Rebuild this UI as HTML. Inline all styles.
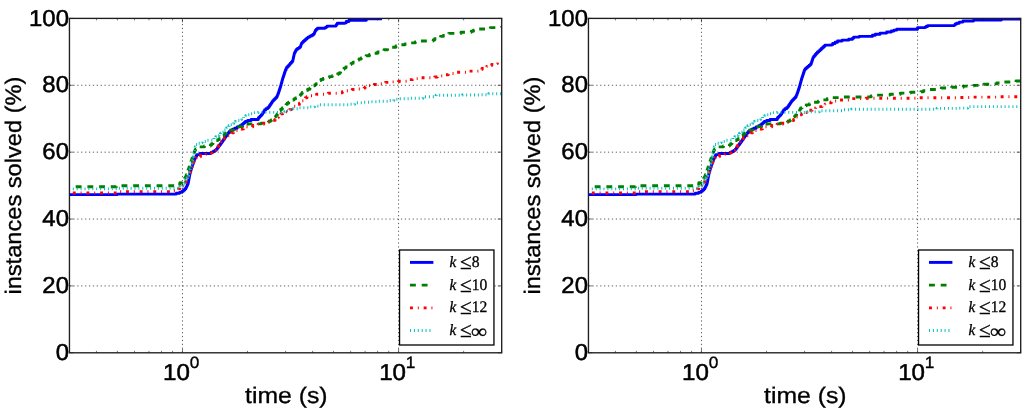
<!DOCTYPE html>
<html>
<head>
<meta charset="utf-8">
<title>instances solved vs time</title>
<style>
html, body { margin: 0; padding: 0; background: #ffffff; }
body { width: 1024px; height: 412px; overflow: hidden; font-family: "Liberation Sans", sans-serif; }
svg { display: block; will-change: transform; }
text { text-rendering: geometricPrecision; }
.grid { stroke: #000; stroke-width: 0.8; stroke-dasharray: 1.25 2.65; stroke-opacity: 0.8; fill: none; }
.tick { stroke: #000; stroke-width: 0.55; }
.tl { font-family: "Liberation Sans", sans-serif; font-size: 23.00px; fill: #000; stroke: #000; stroke-width: 0.5px; }
.al { font-family: "Liberation Sans", sans-serif; font-size: 22.5px; fill: #000; stroke: #000; stroke-width: 0.32px; }
.sup { font-family: "Liberation Sans", sans-serif; font-size: 16.4px; fill: #000; stroke: #000; stroke-width: 0.35px; }
.lg { font-family: "Liberation Serif", serif; font-size: 16.4px; fill: #000; stroke: #000; stroke-width: 0.3px; }
.it { font-style: italic; }
</style>
</head>
<body>
<svg width="1024" height="412" viewBox="0 0 1024 412">
<defs>
<clipPath id="clip0"><rect x="69.45" y="18.40" width="432.25" height="334.40"/></clipPath>
<clipPath id="clip1"><rect x="588.45" y="18.40" width="432.25" height="334.40"/></clipPath>
</defs>
<rect x="0" y="0" width="1024" height="412" fill="#ffffff"/>
<g>
<g clip-path="url(#clip0)">
<polyline points="69.40,194.60 115.50,194.60 117.50,194.60 117.50,194.10 174.70,194.10 176.35,194.10 176.35,193.25 179.65,193.25 179.65,192.40 181.30,192.40 182.03,192.40 182.03,191.20 183.50,191.20 183.50,190.00 184.97,190.00 184.97,188.80 185.70,188.80 185.94,188.80 185.94,187.78 186.42,187.78 186.42,186.76 186.90,186.76 186.90,185.74 187.38,185.74 187.38,184.72 187.86,184.72 187.86,183.70 188.10,183.70 188.21,183.70 188.21,182.57 188.42,182.57 188.42,181.43 188.63,181.43 188.63,180.30 188.84,180.30 188.84,179.17 189.05,179.17 189.05,178.03 189.26,178.03 189.26,176.90 189.47,176.90 189.47,175.77 189.68,175.77 189.68,174.63 189.89,174.63 189.89,173.50 190.00,173.50 190.16,173.50 190.16,172.46 190.47,172.46 190.47,171.41 190.79,171.41 190.79,170.37 191.10,170.37 191.10,169.33 191.41,169.33 191.41,168.29 191.73,168.29 191.73,167.24 192.04,167.24 192.04,166.20 192.20,166.20 192.41,166.20 192.41,165.06 192.82,165.06 192.82,163.91 193.24,163.91 193.24,162.77 193.65,162.77 193.65,161.63 194.06,161.63 194.06,160.49 194.48,160.49 194.48,159.34 194.89,159.34 194.89,158.20 195.10,158.20 195.47,158.20 195.47,157.00 196.20,157.00 196.20,155.80 196.93,155.80 196.93,154.60 197.30,154.60 200.20,154.60 200.20,153.50 210.60,153.50 210.60,153.00 211.57,153.00 211.57,152.10 213.53,152.10 213.53,151.20 214.50,151.20 215.10,151.20 215.10,150.20 216.30,150.20 216.30,149.20 216.90,149.20 217.29,149.20 217.29,148.12 218.06,148.12 218.06,147.05 218.84,147.05 218.84,145.97 219.61,145.97 219.61,144.90 220.00,144.90 220.39,144.90 220.39,143.82 221.16,143.82 221.16,142.75 221.94,142.75 221.94,141.68 222.71,141.68 222.71,140.60 223.10,140.60 223.50,140.60 223.50,139.43 224.30,139.43 224.30,138.25 225.10,138.25 225.10,137.07 225.90,137.07 225.90,135.90 226.30,135.90 226.68,135.90 226.68,134.87 227.45,134.87 227.45,133.83 228.22,133.83 228.22,132.80 228.60,132.80 229.38,132.80 229.38,131.55 230.92,131.55 230.92,130.30 231.70,130.30 232.72,130.30 232.72,129.25 234.78,129.25 234.78,128.20 235.80,128.20 237.15,128.20 237.15,126.90 239.85,126.90 239.85,125.60 241.20,125.60 241.80,125.60 241.80,124.57 243.00,124.57 243.00,123.55 244.20,123.55 244.20,122.53 245.40,122.53 245.40,121.50 246.00,121.50 247.70,121.50 247.70,120.50 251.10,120.50 251.10,119.50 252.80,119.50 258.30,119.50 258.30,118.30 258.87,118.30 258.87,117.20 260.00,117.20 260.00,116.10 261.13,116.10 261.13,115.00 261.70,115.00 262.04,115.00 262.04,113.96 262.72,113.96 262.72,112.92 263.40,112.92 263.40,111.88 264.08,111.88 264.08,110.84 264.76,110.84 264.76,109.80 265.10,109.80 265.98,109.80 265.98,108.65 267.73,108.65 267.73,107.50 268.60,107.50 268.97,107.50 268.97,106.40 269.70,106.40 269.70,105.30 270.43,105.30 270.43,104.20 271.17,104.20 271.17,103.10 271.90,103.10 271.90,102.00 272.63,102.00 272.63,100.90 273.00,100.90 273.49,100.90 273.49,99.93 274.46,99.93 274.46,98.95 275.44,98.95 275.44,97.97 276.41,97.97 276.41,97.00 276.90,97.00 277.13,97.00 277.13,95.83 277.60,95.83 277.60,94.67 278.07,94.67 278.07,93.50 278.30,93.50 278.48,93.50 278.48,92.38 278.85,92.38 278.85,91.27 279.22,91.27 279.22,90.15 279.58,90.15 279.58,89.03 279.95,89.03 279.95,87.92 280.32,87.92 280.32,86.80 280.50,86.80 280.66,86.80 280.66,85.66 280.97,85.66 280.97,84.51 281.29,84.51 281.29,83.37 281.60,83.37 281.60,82.23 281.91,82.23 281.91,81.09 282.23,81.09 282.23,79.94 282.54,79.94 282.54,78.80 282.70,78.80 282.88,78.80 282.88,77.70 283.24,77.70 283.24,76.60 283.61,76.60 283.61,75.50 283.97,75.50 283.97,74.40 284.33,74.40 284.33,73.30 284.69,73.30 284.69,72.20 285.06,72.20 285.06,71.10 285.42,71.10 285.42,70.00 285.60,70.00 286.10,70.00 286.10,68.60 286.57,68.60 286.57,67.54 287.51,67.54 287.51,66.49 288.46,66.49 288.46,65.43 289.40,65.43 289.40,64.37 290.34,64.37 290.34,63.31 291.29,63.31 291.29,62.26 292.23,62.26 292.23,61.20 292.70,61.20 292.82,61.20 292.82,60.10 293.06,60.10 293.06,59.00 293.31,59.00 293.31,57.90 293.55,57.90 293.55,56.80 293.79,56.80 293.79,55.70 294.04,55.70 294.04,54.60 294.28,54.60 294.28,53.50 294.40,53.50 294.67,53.50 294.67,52.48 295.23,52.48 295.23,51.45 295.77,51.45 295.77,50.42 296.33,50.42 296.33,49.40 296.60,49.40 297.53,49.40 297.53,48.35 299.38,48.35 299.38,47.30 300.30,47.30 300.46,47.30 300.46,46.32 300.79,46.32 300.79,45.35 301.11,45.35 301.11,44.38 301.44,44.38 301.44,43.40 301.60,43.40 302.17,43.40 302.17,42.34 303.31,42.34 303.31,41.28 304.45,41.28 304.45,40.22 305.59,40.22 305.59,39.16 306.73,39.16 306.73,38.10 307.30,38.10 308.14,38.10 308.14,37.12 309.81,37.12 309.81,36.15 311.49,36.15 311.49,35.18 313.16,35.18 313.16,34.20 314.00,34.20 314.21,34.20 314.21,33.20 314.64,33.20 314.64,32.20 315.06,32.20 315.06,31.20 315.49,31.20 315.49,30.20 315.70,30.20 316.30,30.20 316.30,29.25 317.50,29.25 317.50,28.30 318.10,28.30 324.90,28.30 324.90,28.10 325.65,28.10 325.65,27.10 327.15,27.10 327.15,26.10 327.90,26.10 336.00,26.10 336.00,25.40 336.45,25.40 336.45,24.35 337.35,24.35 337.35,23.30 337.80,23.30 344.90,23.30 344.90,22.90 346.25,22.90 346.25,21.55 348.95,21.55 348.95,20.20 350.30,20.20 364.00,20.20 366.40,20.20 366.40,18.70 382.00,18.70" fill="none" stroke="#0000ff" stroke-width="2.90" stroke-linejoin="round"  />
<polyline points="69.40,186.70 113.50,186.70 116.50,186.70 116.50,185.70 174.70,185.70 175.80,185.70 175.80,184.85 178.00,184.85 178.00,184.00 179.10,184.00 180.03,184.00 180.03,182.75 181.88,182.75 181.88,181.50 182.80,181.50 183.16,181.50 183.16,180.40 183.89,180.40 183.89,179.30 184.61,179.30 184.61,178.20 185.34,178.20 185.34,177.10 185.70,177.10 185.91,177.10 185.91,175.96 186.32,175.96 186.32,174.81 186.74,174.81 186.74,173.67 187.15,173.67 187.15,172.53 187.56,172.53 187.56,171.39 187.98,171.39 187.98,170.24 188.39,170.24 188.39,169.10 188.60,169.10 188.78,169.10 188.78,168.01 189.14,168.01 189.14,166.93 189.51,166.93 189.51,165.84 189.87,165.84 189.87,164.75 190.23,164.75 190.23,163.66 190.59,163.66 190.59,162.57 190.96,162.57 190.96,161.49 191.32,161.49 191.32,160.40 191.50,160.40 191.68,160.40 191.68,159.30 192.04,159.30 192.04,158.20 192.41,158.20 192.41,157.10 192.77,157.10 192.77,156.00 193.13,156.00 193.13,154.90 193.49,154.90 193.49,153.80 193.86,153.80 193.86,152.70 194.22,152.70 194.22,151.60 194.40,151.60 194.77,151.60 194.77,150.40 195.50,150.40 195.50,149.20 196.23,149.20 196.23,148.00 196.60,148.00 198.90,148.00 198.90,146.90 204.40,146.90 204.40,145.90 209.80,145.90 209.80,146.10 210.40,146.10 210.40,144.95 211.60,144.95 211.60,143.80 212.20,143.80 212.98,143.80 212.98,142.73 214.55,142.73 214.55,141.67 216.12,141.67 216.12,140.60 216.90,140.60 217.68,140.60 217.68,139.65 219.22,139.65 219.22,138.70 220.00,138.70 220.59,138.70 220.59,137.62 221.76,137.62 221.76,136.55 222.94,136.55 222.94,135.47 224.11,135.47 224.11,134.40 225.29,134.40 225.29,133.32 226.46,133.32 226.46,132.25 227.64,132.25 227.64,131.17 228.81,131.17 228.81,130.10 229.40,130.10 234.00,130.10 234.00,128.50 235.00,128.50 235.00,127.55 237.00,127.55 237.00,126.60 238.00,126.60 242.70,126.60 242.70,125.40 248.00,125.40 248.00,123.90 261.25,123.90 261.25,123.10 268.30,123.10 268.30,122.00 269.27,122.00 269.27,121.00 271.23,121.00 271.23,120.00 272.20,120.00 272.69,120.00 272.69,119.03 273.66,119.03 273.66,118.05 274.64,118.05 274.64,117.07 275.61,117.07 275.61,116.10 276.10,116.10 276.49,116.10 276.49,115.00 277.27,115.00 277.27,113.90 278.05,113.90 278.05,112.80 278.83,112.80 278.83,111.70 279.61,111.70 279.61,110.60 280.00,110.60 280.77,110.60 280.77,109.25 282.33,109.25 282.33,107.90 283.10,107.90 283.69,107.90 283.69,106.73 284.86,106.73 284.86,105.55 286.04,105.55 286.04,104.38 287.21,104.38 287.21,103.20 287.80,103.20 288.68,103.20 288.68,102.12 290.43,102.12 290.43,101.05 292.18,101.05 292.18,99.98 293.93,99.98 293.93,98.90 294.80,98.90 295.59,98.90 295.59,97.83 297.16,97.83 297.16,96.75 298.74,96.75 298.74,95.67 300.31,95.67 300.31,94.60 301.10,94.60 301.50,94.60 301.50,93.57 302.30,93.57 302.30,92.53 303.10,92.53 303.10,91.50 303.50,91.50 304.90,91.50 304.90,90.40 307.70,90.40 307.70,89.30 309.10,89.30 309.93,89.30 309.93,88.12 311.57,88.12 311.57,86.95 313.23,86.95 313.23,85.77 314.88,85.77 314.88,84.60 315.70,84.60 316.28,84.60 316.28,83.58 317.44,83.58 317.44,82.56 318.60,82.56 318.60,81.54 319.76,81.54 319.76,80.52 320.92,80.52 320.92,79.50 321.50,79.50 323.08,79.50 323.08,78.53 326.25,78.53 326.25,77.57 329.42,77.57 329.42,76.60 331.00,76.60 332.35,76.60 332.35,75.63 335.05,75.63 335.05,74.67 337.75,74.67 337.75,73.70 339.10,73.70 339.61,73.70 339.61,72.60 340.64,72.60 340.64,71.50 341.66,71.50 341.66,70.40 342.69,70.40 342.69,69.30 343.20,69.30 344.08,69.30 344.08,68.12 345.84,68.12 345.84,66.94 347.60,66.94 347.60,65.76 349.36,65.76 349.36,64.58 351.12,64.58 351.12,63.40 352.00,63.40 353.00,63.40 353.00,62.30 355.00,62.30 355.00,61.20 357.00,61.20 357.00,60.10 359.00,60.10 359.00,59.00 360.00,59.00 361.22,59.00 361.22,57.90 363.65,57.90 363.65,56.80 366.08,56.80 366.08,55.70 367.30,55.70 369.50,55.70 369.50,54.45 373.90,54.45 373.90,53.20 376.10,53.20 377.68,53.20 377.68,52.07 380.85,52.07 380.85,50.93 384.02,50.93 384.02,49.80 385.60,49.80 387.62,49.80 387.62,48.55 391.68,48.55 391.68,47.30 393.70,47.30 395.90,47.30 395.90,46.05 400.30,46.05 400.30,44.80 402.50,44.80 405.05,44.80 405.05,43.85 410.15,43.85 410.15,42.90 412.70,42.90 415.27,42.90 415.27,41.95 420.43,41.95 420.43,41.00 423.00,41.00 433.20,41.00 433.20,40.00 434.67,40.00 434.67,38.80 437.60,38.80 437.60,37.60 440.53,37.60 440.53,36.40 442.00,36.40 443.33,36.40 443.33,35.40 446.00,35.40 446.00,34.40 448.67,34.40 448.67,33.40 450.00,33.40 461.00,33.40 461.00,32.30 471.30,32.30 471.30,31.20 473.48,31.20 473.48,30.10 477.82,30.10 477.82,29.00 480.00,29.00 490.30,29.00 490.30,27.60 501.70,27.60 501.70,26.00" fill="none" stroke="#008000" stroke-width="2.90" stroke-linejoin="round" stroke-dasharray="5.85 5.85" stroke-dashoffset="-6.3"/>
<polyline points="69.40,193.00 114.00,193.00 117.00,193.00 117.00,191.60 171.80,191.60 173.28,191.60 173.28,190.70 176.22,190.70 176.22,189.80 177.70,189.80 178.42,189.80 178.42,188.83 179.88,188.83 179.88,187.85 181.32,187.85 181.32,186.88 182.78,186.88 182.78,185.90 183.50,185.90 183.86,185.90 183.86,184.72 184.58,184.72 184.58,183.54 185.30,183.54 185.30,182.36 186.02,182.36 186.02,181.18 186.74,181.18 186.74,180.00 187.10,180.00 187.31,180.00 187.31,178.97 187.72,178.97 187.72,177.94 188.14,177.94 188.14,176.91 188.55,176.91 188.55,175.89 188.96,175.89 188.96,174.86 189.38,174.86 189.38,173.83 189.79,173.83 189.79,172.80 190.00,172.80 190.19,172.80 190.19,171.70 190.56,171.70 190.56,170.60 190.93,170.60 190.93,169.50 191.29,169.50 191.29,168.40 191.66,168.40 191.66,167.30 192.03,167.30 192.03,166.20 192.41,166.20 192.41,165.10 192.77,165.10 192.77,164.00 193.14,164.00 193.14,162.90 193.51,162.90 193.51,161.80 193.70,161.80 193.99,161.80 193.99,160.78 194.57,160.78 194.57,159.76 195.15,159.76 195.15,158.74 195.73,158.74 195.73,157.72 196.31,157.72 196.31,156.70 196.60,156.70 200.50,156.70 200.50,155.10 205.90,155.10 205.90,154.30 211.40,154.30 211.40,152.70 212.38,152.70 212.38,151.35 214.33,151.35 214.33,150.00 215.30,150.00 215.82,150.00 215.82,148.83 216.85,148.83 216.85,147.67 217.88,147.67 217.88,146.50 218.40,146.50 218.70,146.50 218.70,145.32 219.30,145.32 219.30,144.15 219.90,144.15 219.90,142.98 220.50,142.98 220.50,141.80 220.80,141.80 221.29,141.80 221.29,140.83 222.26,140.83 222.26,139.85 223.24,139.85 223.24,138.88 224.21,138.88 224.21,137.90 224.70,137.90 225.67,137.90 225.67,136.90 227.62,136.90 227.62,135.90 228.60,135.90 229.25,135.90 229.25,134.87 230.55,134.87 230.55,133.83 231.85,133.83 231.85,132.80 232.50,132.80 233.57,132.80 233.57,131.65 235.73,131.65 235.73,130.50 236.80,130.50 242.30,130.50 242.30,128.90 243.53,128.90 243.53,127.90 245.97,127.90 245.97,126.90 247.20,126.90 252.70,126.90 252.70,125.50 258.10,125.50 258.10,124.30 263.60,124.30 263.60,123.10 266.33,123.10 266.33,121.75 271.77,121.75 271.77,120.40 274.50,120.40 275.08,120.40 275.08,119.37 276.25,119.37 276.25,118.33 277.42,118.33 277.42,117.30 278.00,117.30 278.60,117.30 278.60,116.12 279.80,116.12 279.80,114.93 281.00,114.93 281.00,113.75 281.60,113.75 282.76,113.75 282.76,112.78 285.09,112.78 285.09,111.80 286.25,111.80 287.41,111.80 287.41,110.65 289.74,110.65 289.74,109.50 290.90,109.50 291.55,109.50 291.55,108.43 292.85,108.43 292.85,107.37 294.15,107.37 294.15,106.30 294.80,106.30 295.79,106.30 295.79,105.35 297.76,105.35 297.76,104.40 298.75,104.40 299.43,104.40 299.43,103.20 300.77,103.20 300.77,102.00 302.12,102.00 302.12,100.80 302.80,100.80 303.33,100.80 303.33,99.77 304.40,99.77 304.40,98.73 305.47,98.73 305.47,97.70 306.00,97.70 307.00,97.70 307.00,96.75 309.00,96.75 309.00,95.80 310.00,95.80 316.60,95.80 316.60,94.20 328.30,94.20 328.30,93.20 341.00,93.20 341.00,92.70 342.35,92.70 342.35,91.70 345.05,91.70 345.05,90.70 346.40,90.70 352.20,90.70 352.20,89.50 358.60,89.50 358.60,89.00 364.00,89.00 364.00,88.10 365.10,88.10 365.10,86.85 367.30,86.85 367.30,85.60 368.40,85.60 374.20,85.60 374.20,84.50 380.10,84.50 380.10,83.70 385.40,83.70 385.40,82.40 391.80,82.40 391.80,81.90 398.60,81.90 398.60,81.20 409.80,81.20 409.80,79.60 412.73,79.60 412.73,78.65 418.57,78.65 418.57,77.70 421.50,77.70 434.70,77.70 434.70,77.00 437.45,77.00 437.45,75.90 442.95,75.90 442.95,74.80 445.70,74.80 448.43,74.80 448.43,73.55 453.88,73.55 453.88,72.30 456.60,72.30 469.10,72.30 469.10,71.10 480.80,71.10 480.80,69.60 481.99,69.60 481.99,68.57 484.36,68.57 484.36,67.55 486.74,67.55 486.74,66.53 489.11,66.53 489.11,65.50 490.30,65.50 491.73,65.50 491.73,64.53 494.57,64.53 494.57,63.55 497.43,63.55 497.43,62.58 500.27,62.58 500.27,61.60 501.70,61.60" fill="none" stroke="#ff0000" stroke-width="2.90" stroke-linejoin="round" stroke-dasharray="2.93 4.87 0.98 4.87" stroke-dashoffset="-3.4"/>
<polyline points="69.40,188.90 114.00,188.90 117.00,188.90 117.00,188.20 176.20,188.20 179.10,188.20 179.10,187.60 180.03,187.60 180.03,186.40 181.88,186.40 181.88,185.20 182.80,185.20 183.15,185.20 183.15,184.21 183.85,184.21 183.85,183.22 184.55,183.22 184.55,182.24 185.25,182.24 185.25,181.25 185.60,181.25 185.88,181.25 185.88,180.13 186.44,180.13 186.44,179.01 186.99,179.01 186.99,177.89 187.55,177.89 187.55,176.76 188.11,176.76 188.11,175.64 188.66,175.64 188.66,174.52 189.22,174.52 189.22,173.40 189.50,173.40 189.61,173.40 189.61,172.29 189.84,172.29 189.84,171.17 190.07,171.17 190.07,170.06 190.30,170.06 190.30,168.94 190.53,168.94 190.53,167.83 190.76,167.83 190.76,166.71 190.99,166.71 190.99,165.60 191.10,165.60 191.26,165.60 191.26,164.52 191.58,164.52 191.58,163.44 191.90,163.44 191.90,162.36 192.22,162.36 192.22,161.28 192.54,161.28 192.54,160.20 192.70,160.20 192.82,160.20 192.82,159.02 193.07,159.02 193.07,157.83 193.32,157.83 193.32,156.65 193.57,156.65 193.57,155.47 193.82,155.47 193.82,154.28 194.07,154.28 194.07,153.10 194.20,153.10 194.30,153.10 194.30,152.03 194.50,152.03 194.50,150.95 194.70,150.95 194.70,149.88 194.90,149.88 194.90,148.80 195.10,148.80 195.10,147.72 195.30,147.72 195.30,146.65 195.50,146.65 195.50,145.57 195.70,145.57 195.70,144.50 195.80,144.50 197.30,144.50 197.30,143.20 200.20,143.20 200.20,142.60 202.20,142.60 202.20,141.45 206.20,141.45 206.20,140.30 208.20,140.30 213.00,140.30 213.00,139.10 213.97,139.10 213.97,137.90 215.93,137.90 215.93,136.70 216.90,136.70 217.64,136.70 217.64,135.52 219.11,135.52 219.11,134.35 220.59,134.35 220.59,133.18 222.06,133.18 222.06,132.00 222.80,132.00 223.34,132.00 223.34,130.98 224.42,130.98 224.42,129.96 225.50,129.96 225.50,128.94 226.58,128.94 226.58,127.92 227.66,127.92 227.66,126.90 228.20,126.90 228.97,126.90 228.97,125.75 230.53,125.75 230.53,124.60 232.07,124.60 232.07,123.45 233.62,123.45 233.62,122.30 234.40,122.30 235.42,122.30 235.42,121.37 237.45,121.37 237.45,120.43 239.48,120.43 239.48,119.50 240.50,119.50 241.53,119.50 241.53,118.15 243.57,118.15 243.57,116.80 244.60,116.80 245.80,116.80 245.80,115.80 248.20,115.80 248.20,114.80 249.40,114.80 250.60,114.80 250.60,113.70 253.00,113.70 253.00,112.60 254.20,112.60 258.30,112.60 258.30,112.40 276.90,112.40 276.90,112.50 284.70,112.50 284.70,111.80 286.25,111.80 286.25,110.80 289.35,110.80 289.35,109.80 290.90,109.80 293.25,109.80 293.25,108.75 297.95,108.75 297.95,107.70 300.30,107.70 309.70,107.70 309.70,106.80 314.60,106.80 314.60,106.10 319.50,106.10 319.50,104.70 348.80,104.70 348.80,104.20 354.70,104.20 354.70,102.70 363.50,102.70 363.50,102.20 371.30,102.20 371.30,101.70 377.10,101.70 377.10,101.25 387.90,101.25 387.90,100.50 393.75,100.50 393.75,99.30 398.60,99.30 398.60,98.80 409.80,98.80 409.80,98.20 423.00,98.20 423.00,96.70 436.10,96.70 436.10,95.30 462.50,95.30 462.50,95.00 480.00,95.00 480.00,94.80 488.80,94.80 488.80,93.80 501.70,93.80 501.70,93.50" fill="none" stroke="#00bfbf" stroke-width="2.90" stroke-linejoin="round" stroke-dasharray="0.98 2.92" stroke-dashoffset="-3.4"/>
</g>
<line x1="182.46" y1="352.80" x2="182.46" y2="18.40" class="grid"/>
<line x1="398.58" y1="352.80" x2="398.58" y2="18.40" class="grid"/>
<line x1="69.45" y1="285.92" x2="501.70" y2="285.92" class="grid"/>
<line x1="69.45" y1="219.04" x2="501.70" y2="219.04" class="grid"/>
<line x1="69.45" y1="152.16" x2="501.70" y2="152.16" class="grid"/>
<line x1="69.45" y1="85.28" x2="501.70" y2="85.28" class="grid"/>
<line x1="69.45" y1="352.80" x2="73.35" y2="352.80" class="tick"/>
<line x1="501.70" y1="352.80" x2="497.80" y2="352.80" class="tick"/>
<line x1="69.45" y1="285.92" x2="73.35" y2="285.92" class="tick"/>
<line x1="501.70" y1="285.92" x2="497.80" y2="285.92" class="tick"/>
<line x1="69.45" y1="219.04" x2="73.35" y2="219.04" class="tick"/>
<line x1="501.70" y1="219.04" x2="497.80" y2="219.04" class="tick"/>
<line x1="69.45" y1="152.16" x2="73.35" y2="152.16" class="tick"/>
<line x1="501.70" y1="152.16" x2="497.80" y2="152.16" class="tick"/>
<line x1="69.45" y1="85.28" x2="73.35" y2="85.28" class="tick"/>
<line x1="501.70" y1="85.28" x2="497.80" y2="85.28" class="tick"/>
<line x1="69.45" y1="18.40" x2="73.35" y2="18.40" class="tick"/>
<line x1="501.70" y1="18.40" x2="497.80" y2="18.40" class="tick"/>
<line x1="182.46" y1="352.80" x2="182.46" y2="348.90" class="tick"/>
<line x1="182.46" y1="18.40" x2="182.46" y2="22.30" class="tick"/>
<line x1="398.58" y1="352.80" x2="398.58" y2="348.90" class="tick"/>
<line x1="398.58" y1="18.40" x2="398.58" y2="22.30" class="tick"/>
<line x1="69.45" y1="352.80" x2="69.45" y2="350.85" class="tick"/>
<line x1="69.45" y1="18.40" x2="69.45" y2="20.35" class="tick"/>
<line x1="96.45" y1="352.80" x2="96.45" y2="350.85" class="tick"/>
<line x1="96.45" y1="18.40" x2="96.45" y2="20.35" class="tick"/>
<line x1="117.40" y1="352.80" x2="117.40" y2="350.85" class="tick"/>
<line x1="117.40" y1="18.40" x2="117.40" y2="20.35" class="tick"/>
<line x1="134.51" y1="352.80" x2="134.51" y2="350.85" class="tick"/>
<line x1="134.51" y1="18.40" x2="134.51" y2="20.35" class="tick"/>
<line x1="148.98" y1="352.80" x2="148.98" y2="350.85" class="tick"/>
<line x1="148.98" y1="18.40" x2="148.98" y2="20.35" class="tick"/>
<line x1="161.51" y1="352.80" x2="161.51" y2="350.85" class="tick"/>
<line x1="161.51" y1="18.40" x2="161.51" y2="20.35" class="tick"/>
<line x1="172.57" y1="352.80" x2="172.57" y2="350.85" class="tick"/>
<line x1="172.57" y1="18.40" x2="172.57" y2="20.35" class="tick"/>
<line x1="247.52" y1="352.80" x2="247.52" y2="350.85" class="tick"/>
<line x1="247.52" y1="18.40" x2="247.52" y2="20.35" class="tick"/>
<line x1="285.57" y1="352.80" x2="285.57" y2="350.85" class="tick"/>
<line x1="285.57" y1="18.40" x2="285.57" y2="20.35" class="tick"/>
<line x1="312.58" y1="352.80" x2="312.58" y2="350.85" class="tick"/>
<line x1="312.58" y1="18.40" x2="312.58" y2="20.35" class="tick"/>
<line x1="333.52" y1="352.80" x2="333.52" y2="350.85" class="tick"/>
<line x1="333.52" y1="18.40" x2="333.52" y2="20.35" class="tick"/>
<line x1="350.64" y1="352.80" x2="350.64" y2="350.85" class="tick"/>
<line x1="350.64" y1="18.40" x2="350.64" y2="20.35" class="tick"/>
<line x1="365.10" y1="352.80" x2="365.10" y2="350.85" class="tick"/>
<line x1="365.10" y1="18.40" x2="365.10" y2="20.35" class="tick"/>
<line x1="377.64" y1="352.80" x2="377.64" y2="350.85" class="tick"/>
<line x1="377.64" y1="18.40" x2="377.64" y2="20.35" class="tick"/>
<line x1="388.69" y1="352.80" x2="388.69" y2="350.85" class="tick"/>
<line x1="388.69" y1="18.40" x2="388.69" y2="20.35" class="tick"/>
<line x1="463.64" y1="352.80" x2="463.64" y2="350.85" class="tick"/>
<line x1="463.64" y1="18.40" x2="463.64" y2="20.35" class="tick"/>
<line x1="501.70" y1="352.80" x2="501.70" y2="350.85" class="tick"/>
<line x1="501.70" y1="18.40" x2="501.70" y2="20.35" class="tick"/>
<rect x="69.45" y="18.40" width="432.25" height="334.40" fill="none" stroke="#1e1e1e" stroke-width="1.35"/>
<text x="68.95" y="360.00" text-anchor="end" class="tl" textLength="13.3" lengthAdjust="spacingAndGlyphs">0</text>
<text x="68.95" y="293.12" text-anchor="end" class="tl" textLength="26.6" lengthAdjust="spacingAndGlyphs">20</text>
<text x="68.95" y="226.24" text-anchor="end" class="tl" textLength="26.6" lengthAdjust="spacingAndGlyphs">40</text>
<text x="68.95" y="159.36" text-anchor="end" class="tl" textLength="26.6" lengthAdjust="spacingAndGlyphs">60</text>
<text x="68.95" y="92.48" text-anchor="end" class="tl" textLength="26.6" lengthAdjust="spacingAndGlyphs">80</text>
<text x="68.95" y="25.60" text-anchor="end" class="tl" textLength="39.9" lengthAdjust="spacingAndGlyphs">100</text>
<text x="163.06" y="380.10" class="tl" textLength="26.9" lengthAdjust="spacingAndGlyphs">10</text>
<text x="189.66" y="367.70" class="sup" textLength="9.6" lengthAdjust="spacingAndGlyphs">0</text>
<text x="379.18" y="380.10" class="tl" textLength="26.9" lengthAdjust="spacingAndGlyphs">10</text>
<text x="405.78" y="367.70" class="sup" textLength="9.6" lengthAdjust="spacingAndGlyphs">1</text>
<text x="286.27" y="402.9" text-anchor="middle" class="al" textLength="82.5" lengthAdjust="spacingAndGlyphs">time (s)</text>
<text transform="translate(21.10 185.60) rotate(-90)" text-anchor="middle" class="al" textLength="218" lengthAdjust="spacingAndGlyphs">instances solved (%)</text>
<rect x="399.55" y="250.00" width="94.40" height="95.00" fill="#fff" stroke="#000" stroke-width="1.3"/>
<line x1="410.00" y1="262.40" x2="433.40" y2="262.40" stroke="#0000ff" stroke-width="2.90" />
<text x="449.40" y="267.30" class="lg it" style="font-size:15.8px" textLength="6.7" lengthAdjust="spacingAndGlyphs">k</text>
<text x="460.00" y="269.00" class="lg" style="font-size:21.5px">≤</text>
<text x="471.75" y="267.30" class="lg" style="font-size:16.2px" textLength="7.80" lengthAdjust="spacingAndGlyphs">8</text>
<line x1="410.00" y1="285.10" x2="433.40" y2="285.10" stroke="#008000" stroke-width="2.90" stroke-dasharray="5.85 5.85"/>
<text x="449.40" y="289.85" class="lg it" style="font-size:15.8px" textLength="6.7" lengthAdjust="spacingAndGlyphs">k</text>
<text x="460.00" y="291.55" class="lg" style="font-size:21.5px">≤</text>
<text x="471.75" y="289.85" class="lg" style="font-size:16.2px" textLength="15.60" lengthAdjust="spacingAndGlyphs">10</text>
<line x1="410.00" y1="307.90" x2="433.40" y2="307.90" stroke="#ff0000" stroke-width="2.90" stroke-dasharray="2.93 4.87 0.98 4.87"/>
<text x="449.40" y="312.40" class="lg it" style="font-size:15.8px" textLength="6.7" lengthAdjust="spacingAndGlyphs">k</text>
<text x="460.00" y="314.10" class="lg" style="font-size:21.5px">≤</text>
<text x="471.75" y="312.40" class="lg" style="font-size:16.2px" textLength="15.60" lengthAdjust="spacingAndGlyphs">12</text>
<line x1="410.00" y1="330.45" x2="433.40" y2="330.45" stroke="#00bfbf" stroke-width="2.90" stroke-dasharray="0.98 2.92"/>
<text x="449.40" y="335.10" class="lg it" style="font-size:15.8px" textLength="6.7" lengthAdjust="spacingAndGlyphs">k</text>
<text x="460.00" y="336.80" class="lg" style="font-size:21.5px">≤</text>
<text x="471.10" y="337.70" class="lg" style="font-size:20px" textLength="16.1" lengthAdjust="spacingAndGlyphs">∞</text>
</g>
<g>
<g clip-path="url(#clip1)">
<polyline points="588.40,194.60 634.50,194.60 636.50,194.60 636.50,194.10 693.70,194.10 695.35,194.10 695.35,193.25 698.65,193.25 698.65,192.40 700.30,192.40 701.03,192.40 701.03,191.20 702.50,191.20 702.50,190.00 703.97,190.00 703.97,188.80 704.70,188.80 704.94,188.80 704.94,187.78 705.42,187.78 705.42,186.76 705.90,186.76 705.90,185.74 706.38,185.74 706.38,184.72 706.86,184.72 706.86,183.70 707.10,183.70 707.21,183.70 707.21,182.57 707.42,182.57 707.42,181.43 707.63,181.43 707.63,180.30 707.84,180.30 707.84,179.17 708.05,179.17 708.05,178.03 708.26,178.03 708.26,176.90 708.47,176.90 708.47,175.77 708.68,175.77 708.68,174.63 708.89,174.63 708.89,173.50 709.00,173.50 709.16,173.50 709.16,172.46 709.47,172.46 709.47,171.41 709.79,171.41 709.79,170.37 710.10,170.37 710.10,169.33 710.41,169.33 710.41,168.29 710.73,168.29 710.73,167.24 711.04,167.24 711.04,166.20 711.20,166.20 711.41,166.20 711.41,165.06 711.82,165.06 711.82,163.91 712.24,163.91 712.24,162.77 712.65,162.77 712.65,161.63 713.06,161.63 713.06,160.49 713.48,160.49 713.48,159.34 713.89,159.34 713.89,158.20 714.10,158.20 714.47,158.20 714.47,157.00 715.20,157.00 715.20,155.80 715.93,155.80 715.93,154.60 716.30,154.60 719.20,154.60 719.20,153.50 729.60,153.50 729.60,153.00 730.58,153.00 730.58,152.10 732.52,152.10 732.52,151.20 733.50,151.20 734.10,151.20 734.10,150.20 735.30,150.20 735.30,149.20 735.90,149.20 736.29,149.20 736.29,148.12 737.06,148.12 737.06,147.05 737.84,147.05 737.84,145.97 738.61,145.97 738.61,144.90 739.00,144.90 739.39,144.90 739.39,143.82 740.16,143.82 740.16,142.75 740.94,142.75 740.94,141.68 741.71,141.68 741.71,140.60 742.10,140.60 742.50,140.60 742.50,139.43 743.30,139.43 743.30,138.25 744.10,138.25 744.10,137.07 744.90,137.07 744.90,135.90 745.30,135.90 745.68,135.90 745.68,134.87 746.45,134.87 746.45,133.83 747.22,133.83 747.22,132.80 747.60,132.80 748.38,132.80 748.38,131.55 749.92,131.55 749.92,130.30 750.70,130.30 751.73,130.30 751.73,129.25 753.77,129.25 753.77,128.20 754.80,128.20 756.15,128.20 756.15,126.90 758.85,126.90 758.85,125.60 760.20,125.60 760.80,125.60 760.80,124.57 762.00,124.57 762.00,123.55 763.20,123.55 763.20,122.53 764.40,122.53 764.40,121.50 765.00,121.50 766.70,121.50 766.70,120.50 770.10,120.50 770.10,119.50 771.80,119.50 777.30,119.50 777.30,118.30 777.87,118.30 777.87,117.20 779.00,117.20 779.00,116.10 780.13,116.10 780.13,115.00 780.70,115.00 781.04,115.00 781.04,113.96 781.72,113.96 781.72,112.92 782.40,112.92 782.40,111.88 783.08,111.88 783.08,110.84 783.76,110.84 783.76,109.80 784.10,109.80 784.98,109.80 784.98,108.65 786.73,108.65 786.73,107.50 787.60,107.50 787.97,107.50 787.97,106.40 788.70,106.40 788.70,105.30 789.43,105.30 789.43,104.20 790.17,104.20 790.17,103.10 790.90,103.10 790.90,102.00 791.63,102.00 791.63,100.90 792.00,100.90 792.49,100.90 792.49,99.93 793.46,99.93 793.46,98.95 794.44,98.95 794.44,97.97 795.41,97.97 795.41,97.00 795.90,97.00 796.13,97.00 796.13,95.83 796.60,95.83 796.60,94.67 797.07,94.67 797.07,93.50 797.30,93.50 797.48,93.50 797.48,92.38 797.85,92.38 797.85,91.27 798.22,91.27 798.22,90.15 798.58,90.15 798.58,89.03 798.95,89.03 798.95,87.92 799.32,87.92 799.32,86.80 799.50,86.80 799.66,86.80 799.66,85.66 799.97,85.66 799.97,84.51 800.29,84.51 800.29,83.37 800.60,83.37 800.60,82.23 800.91,82.23 800.91,81.09 801.23,81.09 801.23,79.94 801.54,79.94 801.54,78.80 801.70,78.80 801.88,78.80 801.88,77.70 802.24,77.70 802.24,76.60 802.61,76.60 802.61,75.50 802.97,75.50 802.97,74.40 803.33,74.40 803.33,73.30 803.69,73.30 803.69,72.20 804.06,72.20 804.06,71.10 804.42,71.10 804.42,70.00 804.60,70.00 805.10,70.00 805.10,69.30 805.69,69.30 805.69,68.28 806.87,68.28 806.87,67.26 808.05,67.26 808.05,66.24 809.23,66.24 809.23,65.22 810.41,65.22 810.41,64.20 811.00,64.20 811.18,64.20 811.18,63.10 811.55,63.10 811.55,62.00 811.92,62.00 811.92,60.90 812.28,60.90 812.28,59.80 812.65,59.80 812.65,58.70 813.02,58.70 813.02,57.60 813.20,57.60 813.65,57.60 813.65,56.50 814.55,56.50 814.55,55.40 815.45,55.40 815.45,54.30 816.35,54.30 816.35,53.20 816.80,53.20 817.43,53.20 817.43,52.04 818.69,52.04 818.69,50.89 819.94,50.89 819.94,49.73 821.20,49.73 821.20,48.57 822.46,48.57 822.46,47.41 823.71,47.41 823.71,46.26 824.97,46.26 824.97,45.10 825.60,45.10 831.50,45.10 831.50,44.80 832.72,44.80 832.72,43.53 835.15,43.53 835.15,42.27 837.58,42.27 837.58,41.00 838.80,41.00 842.10,41.00 842.10,40.15 848.70,40.15 848.70,39.30 852.00,39.30 852.55,39.30 852.55,38.20 853.65,38.20 853.65,37.10 854.20,37.10 859.30,37.10 859.30,36.40 871.00,36.40 872.45,36.40 872.45,35.30 875.35,35.30 875.35,34.20 876.80,34.20 880.10,34.20 880.10,33.10 886.70,33.10 886.70,32.00 890.00,32.00 891.35,32.00 891.35,31.07 894.05,31.07 894.05,30.13 896.75,30.13 896.75,29.20 898.10,29.20 917.60,29.20 917.60,27.60 925.20,27.60 925.20,27.30 926.02,27.30 926.02,26.45 927.67,26.45 927.67,25.60 928.50,25.60 954.50,25.60 954.50,24.90 955.25,24.90 955.25,24.05 956.75,24.05 956.75,23.20 957.50,23.20 959.33,23.20 959.33,22.10 962.98,22.10 962.98,21.00 964.80,21.00 973.60,21.00 973.60,20.00 998.50,20.00 1001.40,20.00 1001.40,19.10 1020.70,19.10" fill="none" stroke="#0000ff" stroke-width="2.90" stroke-linejoin="round"  />
<polyline points="588.40,186.70 632.50,186.70 635.50,186.70 635.50,185.70 693.70,185.70 694.80,185.70 694.80,184.85 697.00,184.85 697.00,184.00 698.10,184.00 699.02,184.00 699.02,182.75 700.88,182.75 700.88,181.50 701.80,181.50 702.16,181.50 702.16,180.40 702.89,180.40 702.89,179.30 703.61,179.30 703.61,178.20 704.34,178.20 704.34,177.10 704.70,177.10 704.91,177.10 704.91,175.96 705.32,175.96 705.32,174.81 705.74,174.81 705.74,173.67 706.15,173.67 706.15,172.53 706.56,172.53 706.56,171.39 706.98,171.39 706.98,170.24 707.39,170.24 707.39,169.10 707.60,169.10 707.78,169.10 707.78,168.01 708.14,168.01 708.14,166.93 708.51,166.93 708.51,165.84 708.87,165.84 708.87,164.75 709.23,164.75 709.23,163.66 709.59,163.66 709.59,162.57 709.96,162.57 709.96,161.49 710.32,161.49 710.32,160.40 710.50,160.40 710.68,160.40 710.68,159.30 711.04,159.30 711.04,158.20 711.41,158.20 711.41,157.10 711.77,157.10 711.77,156.00 712.13,156.00 712.13,154.90 712.49,154.90 712.49,153.80 712.86,153.80 712.86,152.70 713.22,152.70 713.22,151.60 713.40,151.60 713.77,151.60 713.77,150.40 714.50,150.40 714.50,149.20 715.23,149.20 715.23,148.00 715.60,148.00 717.90,148.00 717.90,146.90 723.40,146.90 723.40,145.90 728.80,145.90 728.80,146.10 729.40,146.10 729.40,144.95 730.60,144.95 730.60,143.80 731.20,143.80 731.98,143.80 731.98,142.73 733.55,142.73 733.55,141.67 735.12,141.67 735.12,140.60 735.90,140.60 736.67,140.60 736.67,139.65 738.23,139.65 738.23,138.70 739.00,138.70 739.59,138.70 739.59,137.62 740.76,137.62 740.76,136.55 741.94,136.55 741.94,135.47 743.11,135.47 743.11,134.40 744.29,134.40 744.29,133.32 745.46,133.32 745.46,132.25 746.64,132.25 746.64,131.17 747.81,131.17 747.81,130.10 748.40,130.10 753.00,130.10 753.00,128.50 754.00,128.50 754.00,127.55 756.00,127.55 756.00,126.60 757.00,126.60 761.70,126.60 761.70,125.40 767.00,125.40 767.00,123.90 780.25,123.90 780.25,123.10 787.30,123.10 787.30,122.00 788.27,122.00 788.27,121.00 790.23,121.00 790.23,120.00 791.20,120.00 791.69,120.00 791.69,119.03 792.66,119.03 792.66,118.05 793.64,118.05 793.64,117.07 794.61,117.07 794.61,116.10 795.10,116.10 795.62,116.10 795.62,114.92 796.67,114.92 796.67,113.75 797.73,113.75 797.73,112.58 798.78,112.58 798.78,111.40 799.30,111.40 799.58,111.40 799.58,110.23 800.15,110.23 800.15,109.07 800.72,109.07 800.72,107.90 801.00,107.90 802.05,107.90 802.05,106.90 804.15,106.90 804.15,105.90 806.25,105.90 806.25,104.90 807.30,104.90 809.50,104.90 809.50,103.60 813.90,103.60 813.90,102.30 816.10,102.30 818.30,102.30 818.30,101.10 822.70,101.10 822.70,99.90 824.90,99.90 827.10,99.90 827.10,98.75 831.50,98.75 831.50,97.60 833.70,97.60 843.50,97.60 843.50,97.00 857.10,97.00 869.00,97.00 869.00,96.90 871.15,96.90 871.15,96.00 875.45,96.00 875.45,95.10 877.60,95.10 890.10,95.10 890.10,94.20 900.40,94.20 900.40,93.10 910.60,93.10 910.60,92.30 920.90,92.30 920.90,91.70 923.45,91.70 923.45,90.60 928.55,90.60 928.55,89.50 931.10,89.50 941.30,89.50 941.30,88.00 951.60,88.00 951.60,87.30 963.30,87.30 963.30,86.10 973.60,86.10 973.60,85.40 983.80,85.40 983.80,84.30 994.10,84.30 994.10,83.90 996.83,83.90 996.83,82.95 1002.27,82.95 1002.27,82.00 1005.00,82.00 1016.00,82.00 1016.00,81.00 1020.70,81.00 1020.70,80.60" fill="none" stroke="#008000" stroke-width="2.90" stroke-linejoin="round" stroke-dasharray="5.85 5.85" stroke-dashoffset="-6.3"/>
<polyline points="588.40,193.00 633.00,193.00 636.00,193.00 636.00,191.60 690.80,191.60 692.27,191.60 692.27,190.70 695.23,190.70 695.23,189.80 696.70,189.80 697.42,189.80 697.42,188.83 698.88,188.83 698.88,187.85 700.33,187.85 700.33,186.88 701.77,186.88 701.77,185.90 702.50,185.90 702.86,185.90 702.86,184.72 703.58,184.72 703.58,183.54 704.30,183.54 704.30,182.36 705.02,182.36 705.02,181.18 705.74,181.18 705.74,180.00 706.10,180.00 706.31,180.00 706.31,178.97 706.72,178.97 706.72,177.94 707.14,177.94 707.14,176.91 707.55,176.91 707.55,175.89 707.96,175.89 707.96,174.86 708.38,174.86 708.38,173.83 708.79,173.83 708.79,172.80 709.00,172.80 709.18,172.80 709.18,171.70 709.56,171.70 709.56,170.60 709.92,170.60 709.92,169.50 710.29,169.50 710.29,168.40 710.66,168.40 710.66,167.30 711.03,167.30 711.03,166.20 711.40,166.20 711.40,165.10 711.77,165.10 711.77,164.00 712.14,164.00 712.14,162.90 712.51,162.90 712.51,161.80 712.70,161.80 712.99,161.80 712.99,160.78 713.57,160.78 713.57,159.76 714.15,159.76 714.15,158.74 714.73,158.74 714.73,157.72 715.31,157.72 715.31,156.70 715.60,156.70 719.50,156.70 719.50,155.10 724.90,155.10 724.90,154.30 730.40,154.30 730.40,152.70 731.38,152.70 731.38,151.35 733.33,151.35 733.33,150.00 734.30,150.00 734.82,150.00 734.82,148.83 735.85,148.83 735.85,147.67 736.88,147.67 736.88,146.50 737.40,146.50 737.70,146.50 737.70,145.32 738.30,145.32 738.30,144.15 738.90,144.15 738.90,142.98 739.50,142.98 739.50,141.80 739.80,141.80 740.29,141.80 740.29,140.83 741.26,140.83 741.26,139.85 742.24,139.85 742.24,138.88 743.21,138.88 743.21,137.90 743.70,137.90 744.67,137.90 744.67,136.90 746.62,136.90 746.62,135.90 747.60,135.90 748.25,135.90 748.25,134.87 749.55,134.87 749.55,133.83 750.85,133.83 750.85,132.80 751.50,132.80 752.58,132.80 752.58,131.65 754.73,131.65 754.73,130.50 755.80,130.50 761.30,130.50 761.30,128.90 762.52,128.90 762.52,127.90 764.98,127.90 764.98,126.90 766.20,126.90 771.70,126.90 771.70,125.50 777.10,125.50 777.10,124.30 782.60,124.30 782.60,123.10 785.17,123.10 785.17,121.80 790.33,121.80 790.33,120.50 792.90,120.50 793.63,120.50 793.63,119.34 795.09,119.34 795.09,118.18 796.55,118.18 796.55,117.02 798.01,117.02 798.01,115.86 799.47,115.86 799.47,114.70 800.20,114.70 801.49,114.70 801.49,113.60 804.06,113.60 804.06,112.50 806.64,112.50 806.64,111.40 809.21,111.40 809.21,110.30 810.50,110.30 812.20,110.30 812.20,109.07 815.60,109.07 815.60,107.83 819.00,107.83 819.00,106.60 820.70,106.60 822.17,106.60 822.17,105.37 825.10,105.37 825.10,104.13 828.03,104.13 828.03,102.90 829.50,102.90 831.22,102.90 831.22,101.93 834.65,101.93 834.65,100.97 838.08,100.97 838.08,100.00 839.80,100.00 851.50,100.00 851.50,98.60 866.10,98.60 866.10,98.30 894.00,98.30 917.90,98.30 917.90,97.80 960.40,97.80 960.40,97.50 973.60,97.50 973.60,97.10 999.90,97.10 999.90,96.80 1020.70,96.80 1020.70,96.40" fill="none" stroke="#ff0000" stroke-width="2.90" stroke-linejoin="round" stroke-dasharray="2.93 4.87 0.98 4.87" stroke-dashoffset="-3.4"/>
<polyline points="588.40,188.90 633.00,188.90 636.00,188.90 636.00,188.20 695.20,188.20 698.10,188.20 698.10,187.60 699.02,187.60 699.02,186.40 700.88,186.40 700.88,185.20 701.80,185.20 702.15,185.20 702.15,184.21 702.85,184.21 702.85,183.22 703.55,183.22 703.55,182.24 704.25,182.24 704.25,181.25 704.60,181.25 704.88,181.25 704.88,180.13 705.44,180.13 705.44,179.01 705.99,179.01 705.99,177.89 706.55,177.89 706.55,176.76 707.11,176.76 707.11,175.64 707.66,175.64 707.66,174.52 708.22,174.52 708.22,173.40 708.50,173.40 708.61,173.40 708.61,172.29 708.84,172.29 708.84,171.17 709.07,171.17 709.07,170.06 709.30,170.06 709.30,168.94 709.53,168.94 709.53,167.83 709.76,167.83 709.76,166.71 709.99,166.71 709.99,165.60 710.10,165.60 710.26,165.60 710.26,164.52 710.58,164.52 710.58,163.44 710.90,163.44 710.90,162.36 711.22,162.36 711.22,161.28 711.54,161.28 711.54,160.20 711.70,160.20 711.83,160.20 711.83,159.02 712.08,159.02 712.08,157.83 712.33,157.83 712.33,156.65 712.58,156.65 712.58,155.47 712.83,155.47 712.83,154.28 713.08,154.28 713.08,153.10 713.20,153.10 713.30,153.10 713.30,152.03 713.50,152.03 713.50,150.95 713.70,150.95 713.70,149.88 713.90,149.88 713.90,148.80 714.10,148.80 714.10,147.72 714.30,147.72 714.30,146.65 714.50,146.65 714.50,145.57 714.70,145.57 714.70,144.50 714.80,144.50 716.30,144.50 716.30,143.20 719.20,143.20 719.20,142.60 721.20,142.60 721.20,141.45 725.20,141.45 725.20,140.30 727.20,140.30 732.00,140.30 732.00,139.10 732.98,139.10 732.98,137.90 734.92,137.90 734.92,136.70 735.90,136.70 736.64,136.70 736.64,135.52 738.11,135.52 738.11,134.35 739.59,134.35 739.59,133.18 741.06,133.18 741.06,132.00 741.80,132.00 742.34,132.00 742.34,130.98 743.42,130.98 743.42,129.96 744.50,129.96 744.50,128.94 745.58,128.94 745.58,127.92 746.66,127.92 746.66,126.90 747.20,126.90 747.98,126.90 747.98,125.75 749.52,125.75 749.52,124.60 751.08,124.60 751.08,123.45 752.62,123.45 752.62,122.30 753.40,122.30 754.42,122.30 754.42,121.37 756.45,121.37 756.45,120.43 758.48,120.43 758.48,119.50 759.50,119.50 760.52,119.50 760.52,118.15 762.58,118.15 762.58,116.80 763.60,116.80 764.80,116.80 764.80,115.80 767.20,115.80 767.20,114.80 768.40,114.80 769.60,114.80 769.60,113.70 772.00,113.70 772.00,112.60 773.20,112.60 777.30,112.60 777.30,112.40 795.90,112.40 795.90,112.50 807.60,112.50 807.60,111.70 819.30,111.70 819.30,110.70 842.70,110.70 842.70,109.80 851.50,109.80 851.50,109.20 932.60,109.20 937.00,109.20 937.00,108.40 957.50,108.40 957.50,108.10 967.70,108.10 967.70,106.60 1020.70,106.60 1020.70,106.30" fill="none" stroke="#00bfbf" stroke-width="2.90" stroke-linejoin="round" stroke-dasharray="0.98 2.92" stroke-dashoffset="-3.4"/>
</g>
<line x1="701.46" y1="352.80" x2="701.46" y2="18.40" class="grid"/>
<line x1="917.58" y1="352.80" x2="917.58" y2="18.40" class="grid"/>
<line x1="588.45" y1="285.92" x2="1020.70" y2="285.92" class="grid"/>
<line x1="588.45" y1="219.04" x2="1020.70" y2="219.04" class="grid"/>
<line x1="588.45" y1="152.16" x2="1020.70" y2="152.16" class="grid"/>
<line x1="588.45" y1="85.28" x2="1020.70" y2="85.28" class="grid"/>
<line x1="588.45" y1="352.80" x2="592.35" y2="352.80" class="tick"/>
<line x1="1020.70" y1="352.80" x2="1016.80" y2="352.80" class="tick"/>
<line x1="588.45" y1="285.92" x2="592.35" y2="285.92" class="tick"/>
<line x1="1020.70" y1="285.92" x2="1016.80" y2="285.92" class="tick"/>
<line x1="588.45" y1="219.04" x2="592.35" y2="219.04" class="tick"/>
<line x1="1020.70" y1="219.04" x2="1016.80" y2="219.04" class="tick"/>
<line x1="588.45" y1="152.16" x2="592.35" y2="152.16" class="tick"/>
<line x1="1020.70" y1="152.16" x2="1016.80" y2="152.16" class="tick"/>
<line x1="588.45" y1="85.28" x2="592.35" y2="85.28" class="tick"/>
<line x1="1020.70" y1="85.28" x2="1016.80" y2="85.28" class="tick"/>
<line x1="588.45" y1="18.40" x2="592.35" y2="18.40" class="tick"/>
<line x1="1020.70" y1="18.40" x2="1016.80" y2="18.40" class="tick"/>
<line x1="701.46" y1="352.80" x2="701.46" y2="348.90" class="tick"/>
<line x1="701.46" y1="18.40" x2="701.46" y2="22.30" class="tick"/>
<line x1="917.58" y1="352.80" x2="917.58" y2="348.90" class="tick"/>
<line x1="917.58" y1="18.40" x2="917.58" y2="22.30" class="tick"/>
<line x1="588.45" y1="352.80" x2="588.45" y2="350.85" class="tick"/>
<line x1="588.45" y1="18.40" x2="588.45" y2="20.35" class="tick"/>
<line x1="615.45" y1="352.80" x2="615.45" y2="350.85" class="tick"/>
<line x1="615.45" y1="18.40" x2="615.45" y2="20.35" class="tick"/>
<line x1="636.40" y1="352.80" x2="636.40" y2="350.85" class="tick"/>
<line x1="636.40" y1="18.40" x2="636.40" y2="20.35" class="tick"/>
<line x1="653.51" y1="352.80" x2="653.51" y2="350.85" class="tick"/>
<line x1="653.51" y1="18.40" x2="653.51" y2="20.35" class="tick"/>
<line x1="667.98" y1="352.80" x2="667.98" y2="350.85" class="tick"/>
<line x1="667.98" y1="18.40" x2="667.98" y2="20.35" class="tick"/>
<line x1="680.51" y1="352.80" x2="680.51" y2="350.85" class="tick"/>
<line x1="680.51" y1="18.40" x2="680.51" y2="20.35" class="tick"/>
<line x1="691.57" y1="352.80" x2="691.57" y2="350.85" class="tick"/>
<line x1="691.57" y1="18.40" x2="691.57" y2="20.35" class="tick"/>
<line x1="766.52" y1="352.80" x2="766.52" y2="350.85" class="tick"/>
<line x1="766.52" y1="18.40" x2="766.52" y2="20.35" class="tick"/>
<line x1="804.58" y1="352.80" x2="804.58" y2="350.85" class="tick"/>
<line x1="804.58" y1="18.40" x2="804.58" y2="20.35" class="tick"/>
<line x1="831.58" y1="352.80" x2="831.58" y2="350.85" class="tick"/>
<line x1="831.58" y1="18.40" x2="831.58" y2="20.35" class="tick"/>
<line x1="852.52" y1="352.80" x2="852.52" y2="350.85" class="tick"/>
<line x1="852.52" y1="18.40" x2="852.52" y2="20.35" class="tick"/>
<line x1="869.64" y1="352.80" x2="869.64" y2="350.85" class="tick"/>
<line x1="869.64" y1="18.40" x2="869.64" y2="20.35" class="tick"/>
<line x1="884.10" y1="352.80" x2="884.10" y2="350.85" class="tick"/>
<line x1="884.10" y1="18.40" x2="884.10" y2="20.35" class="tick"/>
<line x1="896.64" y1="352.80" x2="896.64" y2="350.85" class="tick"/>
<line x1="896.64" y1="18.40" x2="896.64" y2="20.35" class="tick"/>
<line x1="907.69" y1="352.80" x2="907.69" y2="350.85" class="tick"/>
<line x1="907.69" y1="18.40" x2="907.69" y2="20.35" class="tick"/>
<line x1="982.64" y1="352.80" x2="982.64" y2="350.85" class="tick"/>
<line x1="982.64" y1="18.40" x2="982.64" y2="20.35" class="tick"/>
<line x1="1020.70" y1="352.80" x2="1020.70" y2="350.85" class="tick"/>
<line x1="1020.70" y1="18.40" x2="1020.70" y2="20.35" class="tick"/>
<rect x="588.45" y="18.40" width="432.25" height="334.40" fill="none" stroke="#1e1e1e" stroke-width="1.35"/>
<text x="587.95" y="360.00" text-anchor="end" class="tl" textLength="13.3" lengthAdjust="spacingAndGlyphs">0</text>
<text x="587.95" y="293.12" text-anchor="end" class="tl" textLength="26.6" lengthAdjust="spacingAndGlyphs">20</text>
<text x="587.95" y="226.24" text-anchor="end" class="tl" textLength="26.6" lengthAdjust="spacingAndGlyphs">40</text>
<text x="587.95" y="159.36" text-anchor="end" class="tl" textLength="26.6" lengthAdjust="spacingAndGlyphs">60</text>
<text x="587.95" y="92.48" text-anchor="end" class="tl" textLength="26.6" lengthAdjust="spacingAndGlyphs">80</text>
<text x="587.95" y="25.60" text-anchor="end" class="tl" textLength="39.9" lengthAdjust="spacingAndGlyphs">100</text>
<text x="682.06" y="380.10" class="tl" textLength="26.9" lengthAdjust="spacingAndGlyphs">10</text>
<text x="708.66" y="367.70" class="sup" textLength="9.6" lengthAdjust="spacingAndGlyphs">0</text>
<text x="898.18" y="380.10" class="tl" textLength="26.9" lengthAdjust="spacingAndGlyphs">10</text>
<text x="924.78" y="367.70" class="sup" textLength="9.6" lengthAdjust="spacingAndGlyphs">1</text>
<text x="805.28" y="402.9" text-anchor="middle" class="al" textLength="82.5" lengthAdjust="spacingAndGlyphs">time (s)</text>
<text transform="translate(540.10 185.60) rotate(-90)" text-anchor="middle" class="al" textLength="218" lengthAdjust="spacingAndGlyphs">instances solved (%)</text>
<rect x="918.55" y="250.00" width="94.40" height="95.00" fill="#fff" stroke="#000" stroke-width="1.3"/>
<line x1="929.00" y1="262.40" x2="952.40" y2="262.40" stroke="#0000ff" stroke-width="2.90" />
<text x="968.40" y="267.30" class="lg it" style="font-size:15.8px" textLength="6.7" lengthAdjust="spacingAndGlyphs">k</text>
<text x="979.00" y="269.00" class="lg" style="font-size:21.5px">≤</text>
<text x="990.75" y="267.30" class="lg" style="font-size:16.2px" textLength="7.80" lengthAdjust="spacingAndGlyphs">8</text>
<line x1="929.00" y1="285.10" x2="952.40" y2="285.10" stroke="#008000" stroke-width="2.90" stroke-dasharray="5.85 5.85"/>
<text x="968.40" y="289.85" class="lg it" style="font-size:15.8px" textLength="6.7" lengthAdjust="spacingAndGlyphs">k</text>
<text x="979.00" y="291.55" class="lg" style="font-size:21.5px">≤</text>
<text x="990.75" y="289.85" class="lg" style="font-size:16.2px" textLength="15.60" lengthAdjust="spacingAndGlyphs">10</text>
<line x1="929.00" y1="307.90" x2="952.40" y2="307.90" stroke="#ff0000" stroke-width="2.90" stroke-dasharray="2.93 4.87 0.98 4.87"/>
<text x="968.40" y="312.40" class="lg it" style="font-size:15.8px" textLength="6.7" lengthAdjust="spacingAndGlyphs">k</text>
<text x="979.00" y="314.10" class="lg" style="font-size:21.5px">≤</text>
<text x="990.75" y="312.40" class="lg" style="font-size:16.2px" textLength="15.60" lengthAdjust="spacingAndGlyphs">12</text>
<line x1="929.00" y1="330.45" x2="952.40" y2="330.45" stroke="#00bfbf" stroke-width="2.90" stroke-dasharray="0.98 2.92"/>
<text x="968.40" y="335.10" class="lg it" style="font-size:15.8px" textLength="6.7" lengthAdjust="spacingAndGlyphs">k</text>
<text x="979.00" y="336.80" class="lg" style="font-size:21.5px">≤</text>
<text x="990.10" y="337.70" class="lg" style="font-size:20px" textLength="16.1" lengthAdjust="spacingAndGlyphs">∞</text>
</g>
</svg>
</body>
</html>
